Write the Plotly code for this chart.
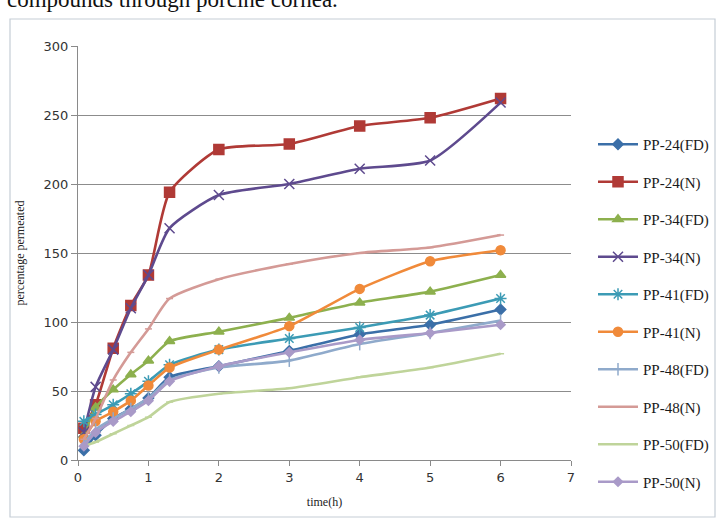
import plotly.graph_objects as go

time_h = [0.083, 0.25, 0.5, 0.75, 1, 1.3, 2, 3, 4, 5, 6]

series_names = ["PP-24(FD)", "PP-24(N)", "PP-34(FD)", "PP-34(N)", "PP-41(FD)",
                "PP-41(N)", "PP-48(FD)", "PP-48(N)", "PP-50(FD)", "PP-50(N)"]

pp24_fd = [7, 18, 30, 37, 45, 60, 68, 79, 91, 98, 109]
pp24_n = [23, 40, 81, 112, 134, 194, 225, 229, 242, 248, 262]
pp34_fd = [18, 38, 51, 62, 72, 86, 93, 103, 114, 122, 134]
pp34_n = [20, 53, 80, 110, 134, 168, 192, 200, 211, 217, 259]
pp41_fd = [28, 33, 40, 48, 57, 69, 80, 88, 96, 105, 117]
pp41_n = [15, 28, 35, 43, 54, 67, 80, 97, 124, 144, 152]
pp48_fd = [12, 22, 30, 37, 45, 58, 67, 72, 84, 92, 101]
pp48_n = [15, 30, 58, 78, 95, 117, 131, 142, 150, 154, 163]
pp50_fd = [10, 13, 19, 25, 31, 42, 48, 52, 60, 67, 77]
pp50_n = [10, 20, 28, 35, 43, 57, 68, 78, 87, 92, 98]

values = [pp24_fd, pp24_n, pp34_fd, pp34_n, pp41_fd, pp41_n, pp48_fd, pp48_n, pp50_fd, pp50_n]

colors = ["#3B6FA8", "#B03A36", "#8DB04E", "#5E4A8E", "#3C9BB5",
          "#F08A3A", "#8FAACB", "#D49A96", "#BFD49A", "#A99AC8"]
symbols = ["diamond", "square", "triangle-up", "x-thin", "asterisk",
           "circle", "line-ns", "line-ew", "line-ew", "diamond"]
msizes = [8, 10, 9, 10, 10, 9, 9, 5, 5, 7]

fig = go.Figure()
for name, vals, col, sym, ms in zip(series_names, values, colors, symbols, msizes):
    fig.add_trace(go.Scatter(
        x=time_h, y=vals, name=name, mode="lines+markers",
        line=dict(color=col, width=2.6, shape="spline", smoothing=0.6),
        marker=dict(symbol=sym, size=ms, color=col,
                    line=dict(color=col, width=1.5)),
        legendgroup=name,
    ))

L, R, T, B = 78, 148, 46, 59
PW, PH = 719 - L - R, 519 - T - B


def px(x):
    return (x - L) / PW


def py(y):
    return (519 - B - y) / PH


fig.add_shape(type="rect", xref="paper", yref="paper",
              x0=px(10), x1=px(715), y0=py(517), y1=py(19),
              line=dict(color="#C5CDD6", width=1.2), fillcolor="rgba(0,0,0,0)",
              layer="below")

fig.add_annotation(text="compounds through porcine cornea.", xref="paper", yref="paper",
                   x=px(5), y=py(0), xanchor="left", yanchor="middle",
                   showarrow=False,
                   font=dict(family="Liberation Serif, serif", size=23, color="#111111"))

fig.update_layout(
    width=719, height=519,
    margin=dict(l=L, r=R, t=T, b=B, autoexpand=False),
    paper_bgcolor="white", plot_bgcolor="white",
    showlegend=True,
    legend=dict(x=px(593), y=py(128), xanchor="left", yanchor="top",
                font=dict(family="Liberation Serif, serif", size=15, color="#1a1a1a"),
                tracegroupgap=15, itemwidth=40, bgcolor="rgba(0,0,0,0)"),
    xaxis=dict(range=[0, 7], dtick=1, showgrid=False, zeroline=False,
               showline=True, linecolor="#8A8A8A", linewidth=1,
               ticks="outside", ticklen=5, tickcolor="#8A8A8A",
               tickfont=dict(family="DejaVu Sans, sans-serif", size=13, color="#333333"),
               title=dict(text="time(h)", standoff=14,
                          font=dict(family="Liberation Serif, serif", size=12, color="#222222"))),
    yaxis=dict(range=[0, 300], dtick=50, showgrid=True, gridcolor="#8C8C8C", gridwidth=1,
               zeroline=False, showline=True, linecolor="#8A8A8A", linewidth=1,
               ticks="outside", ticklen=6, tickcolor="#8A8A8A",
               tickfont=dict(family="DejaVu Sans, sans-serif", size=13, color="#333333"),
               title=dict(text="percentage permeated", standoff=16,
                          font=dict(family="Liberation Serif, serif", size=12, color="#222222"))),
)

fig.write_html("out.html")
